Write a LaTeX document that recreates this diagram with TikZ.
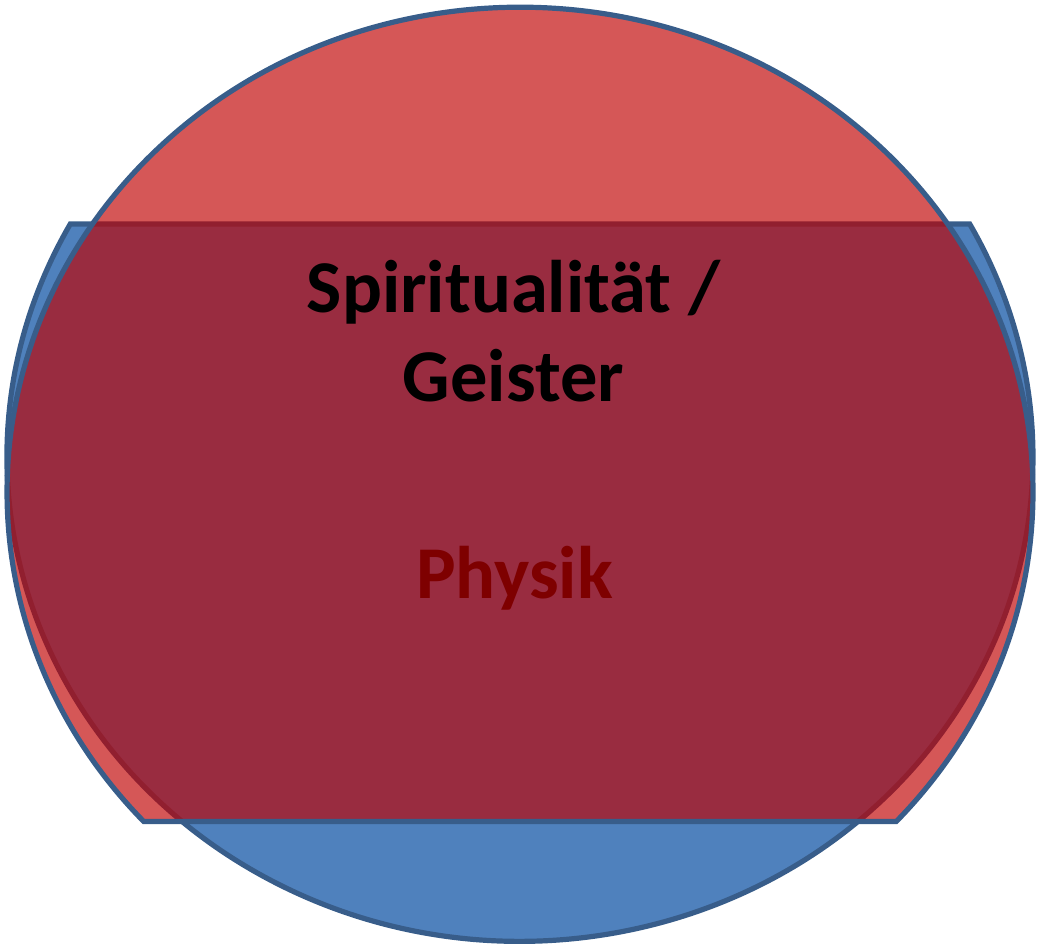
\documentclass[tikz,border=0pt]{standalone}
\usepackage{fontspec}
\setmainfont{Carlito}
\definecolor{bluefill}{RGB}{79,129,189}
\definecolor{blueline}{RGB}{56,93,138}
\definecolor{redfill}{RGB}{192,0,0}
\tikzset{
  shapeline/.style={draw=blueline, line width=5.2pt, line join=miter},
  bigtext/.style={font=\fontsize{74.5}{89}\selectfont\bfseries, inner sep=0pt, anchor=base}
}
\begin{document}
\begin{tikzpicture}[x=1pt,y=1pt]
\useasboundingbox (0,0) rectangle (1038,947);
% blue shape: ellipse with flat top
\draw[shapeline, fill=bluefill]
  ({520+513*cos(151.24)},723) arc[start angle=151.24, end angle=388.76, x radius=513, y radius=484.3] -- cycle;
\node[bigtext, text=black] (physik) at (514.5,348) {Physik};
% red shape: ellipse with flat bottom, translucent
\draw[shapeline, fill=redfill, fill opacity=0.66, draw opacity=1]
  ({520+513*cos(-42.82)},125.5) arc[start angle=-42.82, end angle=222.82, x radius=513, y radius=484.8] -- cycle;
\node[bigtext, text=black] (spirit) at (513.5,634) {Spiritualität /};
\node[bigtext, text=black] (geister) at (513.5,545) {Geister};
\end{tikzpicture}
\end{document}
